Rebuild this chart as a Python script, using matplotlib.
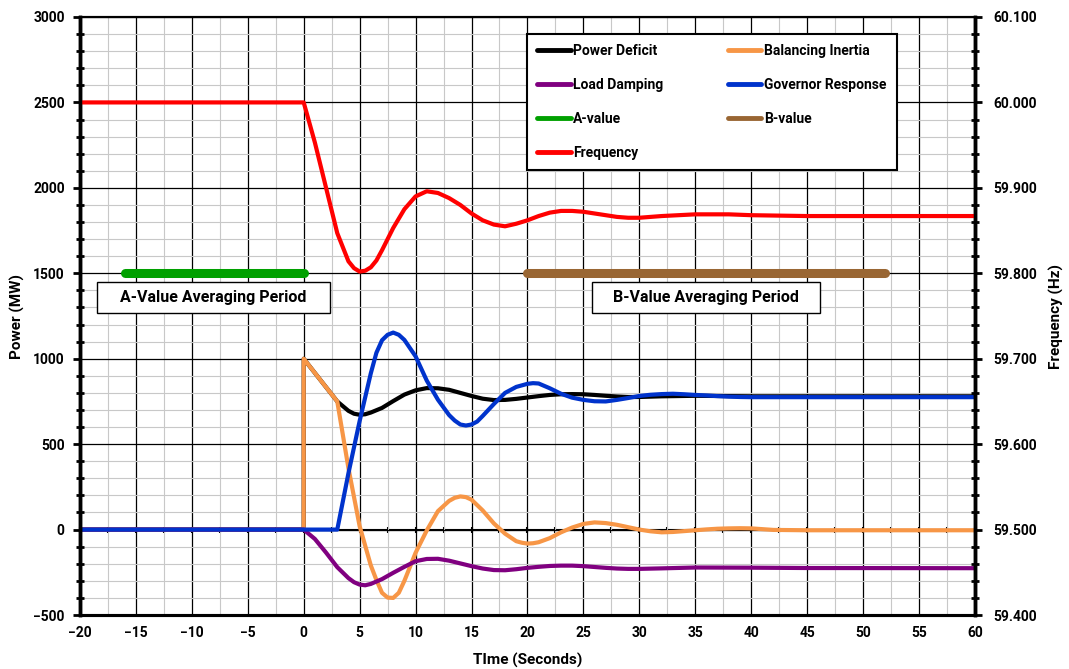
import numpy as np
import matplotlib
matplotlib.use("Agg")
import matplotlib.pyplot as plt
from matplotlib.patches import Rectangle
from matplotlib.ticker import MultipleLocator, FormatStrFormatter

plt.rcParams['font.family'] = ['Roboto', 'DejaVu Sans']
plt.rcParams['font.weight'] = 'bold'

# values
t_deficit = [-20, 0, 0, 3, 4, 4.5, 5, 5.5, 6, 7, 8, 9, 10, 11, 12, 13, 14, 15, 16, 17, 18, 19,
             20, 21, 22, 23, 24, 25, 26, 27, 28, 29, 30, 32, 35, 40, 60]
power_deficit = [0, 0, 1000, 750, 695, 678, 672, 675, 685, 712, 752, 790, 815, 828, 827, 818,
                 800, 782, 766, 758, 759, 765, 773, 781, 788, 792, 793, 792, 788, 783, 779,
                 776, 776, 780, 783, 780, 780]

t_inertia = [-20, 0, 0, 3, 4, 5, 6, 6.5, 7, 7.5, 8, 8.5, 9, 10, 11, 12, 13, 13.5, 14, 14.5,
             15, 16, 17, 18, 19, 19.5, 20, 20.5, 21, 22, 23, 24, 25, 26, 27, 28, 29, 30, 31,
             32, 33, 34, 35, 36, 37, 38, 39, 40, 42, 45, 50, 60]
balancing_inertia = [0, 0, 1000, 750, 359, 20, -210, -295, -370, -398, -400, -370, -300,
                     -136, -5, 108, 168, 186, 194, 190, 175, 112, 36, -24, -68, -77, -82, -80,
                     -74, -50, -16, 12, 33, 42, 38, 28, 14, 0, -10, -16, -14, -9, -4, 1, 5, 7,
                     8, 7, -2, -4, -4, -4]

t_damping = [-20, 0, 1, 2, 3, 4, 4.5, 5, 5.5, 6, 7, 8, 9, 10, 11, 12, 13, 14, 15, 16, 17, 18,
             19, 20, 21, 22, 23, 24, 25, 26, 27, 28, 29, 30, 32, 35, 40, 45, 60]
load_damping = [0, 0, -55, -135, -220, -284, -308, -322, -326, -318, -290, -253, -218, -185,
                -172, -171, -182, -198, -214, -228, -237, -238, -232, -224, -218, -213, -211,
                -211, -214, -219, -224, -228, -230, -230, -227, -222, -223, -225, -226]

t_governor = [-20, 0, 3, 4, 5, 5.5, 6, 6.5, 7, 7.5, 8, 8.5, 9, 10, 11, 12, 13, 13.5, 14, 14.5,
              15, 15.5, 16, 17, 18, 19, 20, 20.5, 21, 22, 23, 24, 25, 26, 27, 28, 29, 30, 31,
              32, 33, 34, 35, 36, 37, 38, 39, 40, 45, 60]
governor_response = [0, 0, 0, 330, 635, 775, 915, 1035, 1108, 1140, 1153, 1140, 1110, 1014,
                     872, 760, 670, 638, 615, 609, 615, 632, 665, 735, 800, 835, 853, 857, 855,
                     827, 795, 772, 759, 751, 750, 759, 770, 782, 789, 793, 795, 792, 788, 785,
                     781, 778, 776, 775, 775, 775]

t_a = [-16, 0]
a_value = [1500, 1500]
t_b = [20, 52]
b_value = [1500, 1500]

t_freq = [-20, 0, 1, 2, 3, 4, 4.5, 5, 5.5, 6, 6.5, 7, 8, 9, 10, 11, 12, 13, 14, 15, 16, 17,
          18, 19, 20, 21, 22, 23, 24, 25, 26, 27, 28, 29, 30, 32, 35, 38, 40, 45, 50, 60]
frequency = [60.000, 60.000, 59.953, 59.900, 59.847, 59.814, 59.806, 59.802, 59.803, 59.807,
             59.815, 59.827, 59.853, 59.875, 59.890, 59.896, 59.894, 59.888, 59.880, 59.870,
             59.862, 59.857, 59.855, 59.858, 59.862, 59.867, 59.871, 59.873, 59.873, 59.872,
             59.870, 59.868, 59.866, 59.865, 59.865, 59.867, 59.869, 59.869, 59.868, 59.867,
             59.867, 59.867]

fig = plt.figure(figsize=(10.69, 6.69), dpi=100)
ax = fig.add_axes([0.0748, 0.0807, 0.8372, 0.8939])
ax2 = ax.twinx()

style = dict(lw=3.0, solid_capstyle='round', solid_joinstyle='round')
h_def, = ax.plot(t_deficit, power_deficit, color='black', label='Power Deficit', **style)
h_in, = ax.plot(t_inertia, balancing_inertia, color='#F79646', label='Balancing Inertia', **style)
h_ld, = ax.plot(t_damping, load_damping, color='#800080', label='Load Damping', **style)
h_gov, = ax.plot(t_governor, governor_response, color='#0033CC', label='Governor Response', **style)
h_a, = ax.plot(t_a, a_value, color='#00A000', lw=6.5, solid_capstyle='round', label='A-value')
h_b, = ax.plot(t_b, b_value, color='#996633', lw=6.5, solid_capstyle='round', label='B-value')
h_f, = ax2.plot(t_freq, frequency, color='#FF0000', label='Frequency', **style)

ax.set_xlim(-20, 60)
ax.set_ylim(-500, 3000)
ax2.set_ylim(59.4, 60.1)

ax.xaxis.set_major_locator(MultipleLocator(5))
ax.xaxis.set_minor_locator(MultipleLocator(2.5))
ax.yaxis.set_major_locator(MultipleLocator(500))
ax.yaxis.set_minor_locator(MultipleLocator(100))
ax2.yaxis.set_major_locator(MultipleLocator(0.1))
ax2.yaxis.set_minor_locator(MultipleLocator(0.02))
ax2.yaxis.set_major_formatter(FormatStrFormatter('%.3f'))

ax.set_axisbelow(True)
ax.grid(which='major', color='black', lw=0.9)
ax.grid(which='minor', color='#c8c8c8', lw=0.8)

for a in (ax, ax2):
    for s in a.spines.values():
        s.set_color('black')
    a.spines['left'].set_linewidth(2.5)
    a.spines['right'].set_linewidth(2.5)
    a.spines['bottom'].set_linewidth(2.2)
    a.spines['top'].set_linewidth(1.5)

ax.tick_params(axis='y', which='major', direction='out', length=5, width=2, labelsize=10, pad=6)
ax.tick_params(axis='y', which='minor', direction='inout', length=6, width=2)
ax.tick_params(axis='x', which='both', length=0, labelsize=10, pad=8)
ax2.tick_params(axis='y', which='major', direction='out', length=5, width=2, labelsize=10, pad=8)
ax2.tick_params(axis='y', which='minor', direction='inout', length=6, width=2)

# horizontal axis crossing at zero power
ax0 = ax.secondary_xaxis(500 / 3500)
ax0.xaxis.set_major_locator(MultipleLocator(2.5))
ax0.tick_params(direction='inout', length=5, width=1.5, labelbottom=False)
ax0.spines['bottom'].set_linewidth(1.5)

ax.set_ylabel('Power (MW)', fontsize=11, fontweight='bold', labelpad=6)
ax.set_xlabel('TIme (Seconds)', fontsize=11, fontweight='bold', labelpad=9)
ax2.set_ylabel('Frequency (Hz)', fontsize=11, fontweight='bold', labelpad=9)

# averaging period captions
for x0, x1, label in [(0.019, 0.2793, 'A-Value Averaging Period'),
                      (0.572, 0.8268, 'B-Value Averaging Period')]:
    ax.add_patch(Rectangle((x0, 0.505), x1 - x0, 0.052, transform=ax.transAxes,
                           facecolor='white', edgecolor='black', lw=1, zorder=5))
    ax.text((x0 + x1) / 2, 0.531, label, transform=ax.transAxes, ha='center', va='center',
            fontsize=11.5, fontweight='bold', zorder=6)

handles = [h_def, h_ld, h_a, h_f, h_in, h_gov, h_b]
leg = ax2.legend(handles=handles, ncol=2, loc='lower left', mode='expand',
                 bbox_to_anchor=(0.4994, 0.744, 0.4134, 0.226), fancybox=False,
                 edgecolor='black', framealpha=1, fontsize=10, labelspacing=1.43,
                 handlelength=2.4, handletextpad=0.2, borderaxespad=0, borderpad=0.75)
leg.get_frame().set_linewidth(1.5)
for line in leg.get_lines():
    line.set_linewidth(3.5)
    line.set_solid_capstyle('round')

fig.savefig('out.png', dpi=100)
